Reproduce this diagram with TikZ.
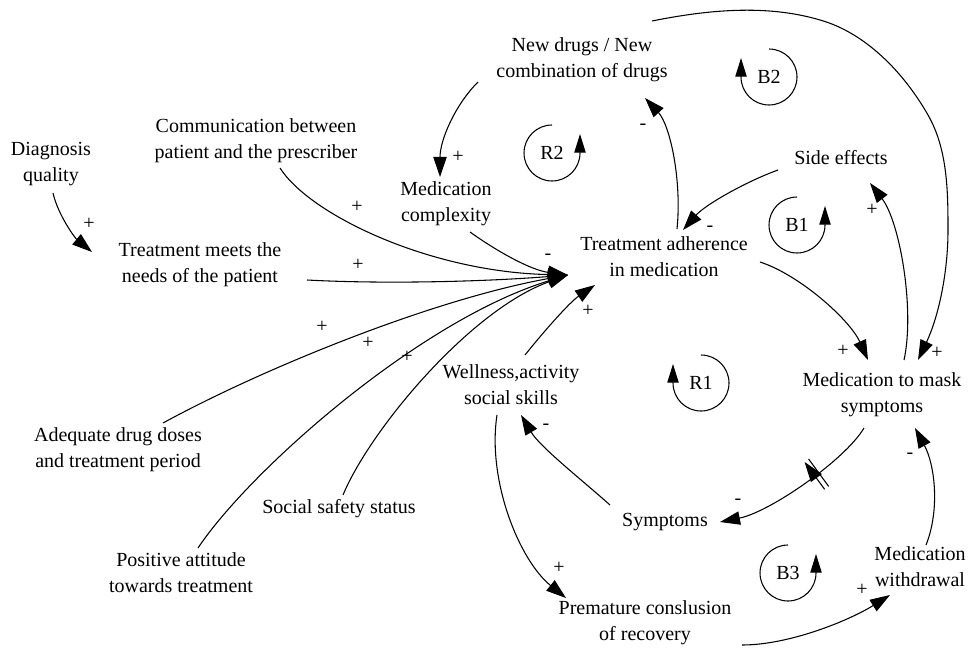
\documentclass[tikz,border=0pt]{standalone}
\usepackage{fontspec}
\setmainfont{Liberation Serif}
\usetikzlibrary{arrows.meta,calc,decorations.markings}
\begin{document}
\begin{tikzpicture}[x=0.75pt,y=-0.75pt,
  var/.style={align=center,font=\fontsize{15}{19.5}\selectfont,inner sep=0pt},
  pol/.style={font=\fontsize{15}{18}\selectfont,inner sep=0pt},
  looplabel/.style={font=\fontsize{15}{18}\selectfont,inner sep=0pt},
  link/.style={line width=0.8pt,-{Triangle[length=15pt,width=10pt]}},
  loopmark/.style={line width=0.8pt,-{Triangle[length=14pt,width=8.5pt]}},
  delaymark/.style={postaction={decorate},decoration={markings,
    mark=at position #1 with {\draw[line width=0.8pt] (-2.5,-17) -- (-2.5,17) (2.5,-17) -- (2.5,17);}}}
]
\useasboundingbox (0,0) rectangle (973,652);

% variables
\node[var] (nd)   at (582,60)  {New drugs / New\\combination of drugs};
\node[var] (dq)   at (51,164)  {Diagnosis\\quality};
\node[var] (comm) at (256,141) {Communication between\\patient and the prescriber};
\node[var] (tmn)  at (200,265) {Treatment meets the\\needs of the patient};
\node[var] (mc)   at (446,204) {Medication\\complexity};
\node[var] (se)   at (841,158) {Side effects};
\node[var] (ta)   at (664,257) {Treatment adherence\\in medication};
\node[var] (adq)  at (118,450) {Adequate drug doses\\and treatment period};
\node[var] (well) at (511,385) {Wellness,activity\\social skills};
\node[var] (mms)  at (882,395) {Medication to mask\\symptoms};
\node[var] (sss)  at (339,509) {Social safety status};
\node[var] (pos)  at (181,573) {Positive attitude\\towards treatment};
\node[var] (sym)  at (665,522) {Symptoms};
\node[var] (mw)   at (920,567) {Medication\\withdrawal};
\node[var] (pcr)  at (645,623) {Premature conslusion\\of recovery};

% causal links
\draw[link] ($(dq)+(2,29)$) .. controls (58,215) and (75,238) .. ($(tmn)+(-108,-13)$);
\draw[link] ($(comm)+(24,27)$) .. controls (310,215) and (430,272) .. ($(ta)+(-96,18)$);
\draw[link] ($(tmn)+(107,15)$) .. controls (380,284) and (480,282) .. ($(ta)+(-96,18)$);
\draw[link] ($(mc)+(24,28)$) .. controls (495,250) and (530,270) .. ($(ta)+(-96,18)$);
\draw[link] ($(adq)+(45,-27)$) .. controls (260,370) and (430,300) .. ($(ta)+(-96,18)$);
\draw[link] ($(pos)+(17,-25)$) .. controls (250,470) and (420,320) .. ($(ta)+(-96,18)$);
\draw[link] ($(sss)+(4,-14)$) .. controls (370,430) and (470,310) .. ($(ta)+(-96,18)$);
\draw[link] ($(well)+(14,-30)$) .. controls (545,330) and (570,302) .. ($(ta)+(-69,28)$);
\draw[link] ($(ta)+(13,-28)$) .. controls (682,180) and (670,125) .. ($(nd)+(63,38)$);
\draw[link] ($(se)+(-63,12)$) .. controls (745,182) and (705,205) .. ($(ta)+(19,-27)$);
\draw[link] ($(nd)+(-104,22)$) .. controls (455,105) and (440,140) .. ($(mc)+(-6,-27)$);
\draw[link] ($(ta)+(96,5)$) .. controls (800,275) and (850,320) .. ($(mms)+(-14,-35)$);
\draw[link] ($(mms)+(22,-35)$) .. controls (915,310) and (900,222) .. ($(se)+(29,25)$);
\draw[link] ($(nd)+(70,-39)$) .. controls (707,10) and (766,4) .. (820,20)
  .. controls (866,33) and (904,73) .. (928,115)
  .. controls (947.5,149) and (948,191) .. (948,230)
  .. controls (948,274) and (938,318) .. ($(mms)+(36,-35)$);
\draw[link,delaymark=0.38] ($(mms)+(-18,33)$) .. controls (845,460) and (770,512) .. ($(sym)+(55,0)$);
\draw[link] ($(sym)+(-55,-17)$) .. controls (582,480) and (540,447) .. ($(well)+(10,30)$);
\draw[link] ($(well)+(-14,30)$) .. controls (487,480) and (519,560) .. ($(pcr)+(-79,-25)$);
\draw[link] ($(pcr)+(97,22)$) .. controls (790,645) and (850,620) .. ($(mw)+(-30,28)$);
\draw[link] ($(mw)+(6,-22)$) .. controls (940,510) and (935,465) .. ($(mms)+(33,33)$);

% link polarities
\node[pol] (p1)  at (89,224)  {+};
\node[pol] (p2)  at (357,207) {+};
\node[pol] (p3)  at (358,265) {+};
\node[pol] (p4)  at (548,257) {-};
\node[pol] (p5)  at (322,327) {+};
\node[pol] (p6)  at (368,343) {+};
\node[pol] (p7)  at (407,357) {+};
\node[pol] (p8)  at (588,311) {+};
\node[pol] (p9)  at (643,127) {-};
\node[pol] (p10) at (710,229) {-};
\node[pol] (p11) at (458,157) {+};
\node[pol] (p12) at (843,351) {+};
\node[pol] (p13) at (872,210) {+};
\node[pol] (p14) at (937,353) {+};
\node[pol] (p15) at (738,502) {-};
\node[pol] (p16) at (546,427) {-};
\node[pol] (p17) at (559,568) {+};
\node[pol] (p18) at (862,590) {+};
\node[pol] (p19) at (910,456) {-};

% loop identifiers
\node[looplabel] (r2) at (552,153) {R2};
\draw[loopmark] ($(r2)+(0,-28)$) arc[start angle=90,end angle=360,radius=21pt] -- ++(0,-19);
\node[looplabel] (b2) at (769,77) {B2};
\draw[loopmark] ($(b2)+(0,-28)$) arc[start angle=90,end angle=-180,radius=21pt] -- ++(0,-19);
\node[looplabel] (b1) at (797,225) {B1};
\draw[loopmark] ($(b1)+(0,-28)$) arc[start angle=90,end angle=360,radius=21pt] -- ++(0,-19);
\node[looplabel] (r1) at (701,383) {R1};
\draw[loopmark] ($(r1)+(0,-28)$) arc[start angle=90,end angle=-180,radius=21pt] -- ++(0,-19);
\node[looplabel] (b3) at (788,573) {B3};
\draw[loopmark] ($(b3)+(0,-28)$) arc[start angle=90,end angle=360,radius=21pt] -- ++(0,-19);
\end{tikzpicture}
\end{document}
